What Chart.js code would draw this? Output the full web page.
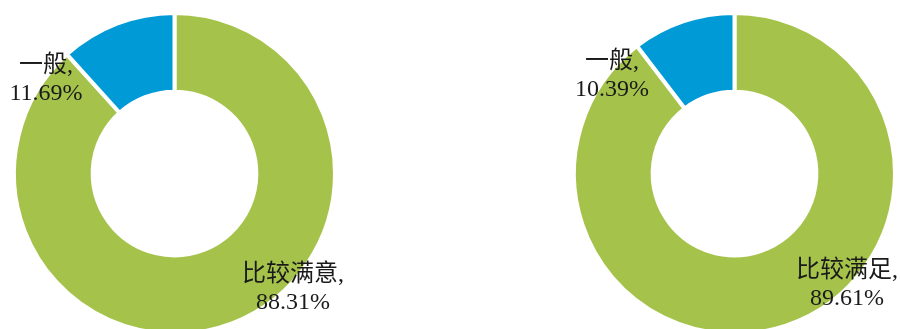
<!DOCTYPE html>
<html>
<head>
<meta charset="utf-8">
<script src="https://cdn.jsdelivr.net/npm/chart.js@4/dist/chart.umd.min.js"></script>
<style>
  html, body { margin: 0; padding: 0; background: #fff; }
  #wrap { position: relative; width: 900px; height: 329px; overflow: hidden; }
  canvas { position: absolute; top: 0; }
  .lbl {
    position: absolute;
    transform: translateX(-50%);
    font-family: "Liberation Serif", "Noto Sans CJK SC", serif;
    font-size: 24px;
    line-height: 28px;
    color: #1a1a1a;
    text-align: center;
    white-space: nowrap;
  }
</style>
</head>
<body>
<div id="wrap">
  <canvas id="left" width="450" height="340" style="left:0"></canvas>
  <canvas id="right" width="450" height="340" style="left:450px"></canvas>
</div>
<script>
// ---- data ----
const leftCategories = ['比较满意', '一般'];
const leftValues = [88.31, 11.69];
const rightCategories = ['比较满足', '一般'];
const rightValues = [89.61, 10.39];
const colors = ['#A5C34B', '#009BD6'];

// label anchor (centre x, top y) inside the 900px page, one per slice
const leftLabelPos = [[293, 259], [46, 50]];
const rightLabelPos = [[847, 255], [612, 46]];

function makeDonut(id, values, padding) {
  return new Chart(document.getElementById(id), {
    type: 'doughnut',
    data: {
      labels: [],
      datasets: [{
        data: values,
        backgroundColor: colors,
        borderColor: '#ffffff',
        borderWidth: 4
      }]
    },
    options: {
      responsive: false,
      devicePixelRatio: 1,
      animation: false,
      cutout: '51%',
      layout: { padding },
      plugins: { legend: { display: false }, tooltip: { enabled: false } }
    }
  });
}

function addLabels(categories, values, positions) {
  const wrap = document.getElementById('wrap');
  categories.forEach((c, i) => {
    const d = document.createElement('div');
    d.className = 'lbl';
    d.style.left = positions[i][0] + 'px';
    d.style.top = positions[i][1] + 'px';
    d.innerHTML = `${c},<br>${values[i].toFixed(2)}%`;
    wrap.appendChild(d);
  });
}

makeDonut('left', leftValues, { left: 12, top: 11, right: 113, bottom: 4 });
makeDonut('right', rightValues, { left: 122, top: 11, right: 3, bottom: 4 });
addLabels(leftCategories, leftValues, leftLabelPos);
addLabels(rightCategories, rightValues, rightLabelPos);
</script>
</body>
</html>
